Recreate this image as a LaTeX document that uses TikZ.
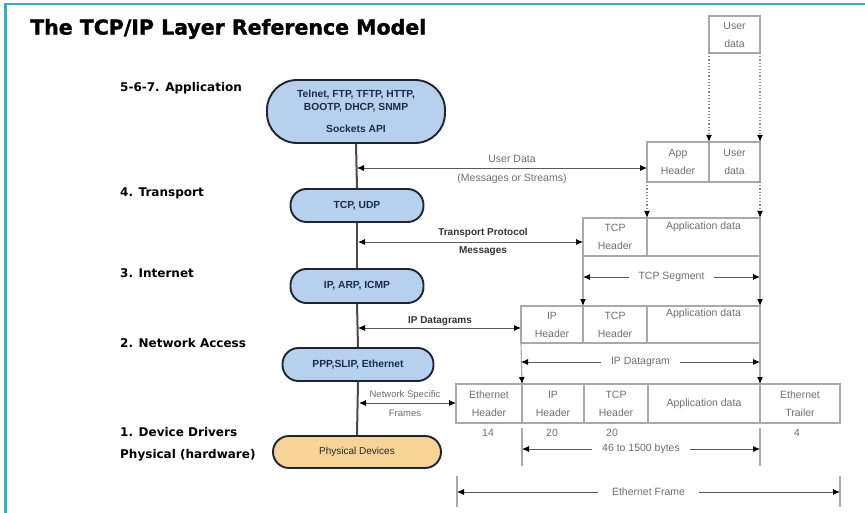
\documentclass[tikz,border=0pt]{standalone}
\usepackage{fontspec}
\setmainfont{Liberation Sans}
\newfontfamily\heavy{DejaVu Sans}
\newfontfamily\titlefont{DejaVu Sans}[BoldFeatures={FakeBold=1.5}]
\usetikzlibrary{arrows.meta}
\definecolor{frame}{HTML}{3FA9C2}
\definecolor{stadfill}{HTML}{B7D0EE}
\definecolor{stadline}{HTML}{1F2430}
\definecolor{stadtext}{HTML}{1B2B4B}
\definecolor{physfill}{HTML}{F6D498}
\definecolor{cellline}{HTML}{A9A9A9}
\definecolor{celltext}{HTML}{6E6E6E}
\definecolor{arrline}{HTML}{5A5A5A}
\definecolor{dotline}{HTML}{8A8A8A}
\definecolor{vline}{HTML}{4A4A4A}
\begin{document}
\begin{tikzpicture}[x=1pt,y=-1pt,
  lab/.style={anchor=west, inner sep=0, font=\heavy\bfseries\fontsize{12}{14}\selectfont},
  stad/.style={draw=stadline, line width=1.9pt, fill=stadfill, text=stadtext, font=\bfseries\fontsize{10.3}{13}\selectfont, align=center, inner sep=0},
  cell/.style={draw=cellline, line width=1.1pt, text=celltext, font=\fontsize{10.5}{18}\selectfont, align=center, inner sep=0, outer sep=0},
  small/.style={text=celltext, font=\fontsize{10.5}{13}\selectfont, inner sep=0},
  smallb/.style={text=black!80, font=\bfseries\fontsize{10}{13}\selectfont, inner sep=0},
  dimlab/.style={small, fill=white, inner xsep=10pt, inner ysep=1pt},
  tipstyle/.tip={Latex[length=7pt,width=6pt,color=black]},
  dbl/.style={tipstyle-tipstyle, draw=arrline, line width=0.9pt},
  dots/.style={draw=dotline, dotted, line width=1.2pt, -tipstyle},
  solidarr/.style={draw=cellline, line width=1.1pt, -tipstyle},
  tick/.style={draw=cellline, line width=1.1pt},
  vl/.style={draw=vline, line width=2pt}
]
\useasboundingbox (0,0) rectangle (865,513);
\draw[draw=frame, line width=2.5pt] (5.5,513) -- (5.5,4) -- (865,4);

% title
\node[anchor=west, inner sep=0, font=\titlefont\bfseries\fontsize{20.5}{24}\selectfont] (title) at (30,29) {The TCP/IP Layer Reference Model};

% layer labels
\node[lab] (l7) at (120,88) {5-6-7. Application};
\node[lab] (l4) at (120,193) {4. Transport};
\node[lab] (l3) at (120,273) {3. Internet};
\node[lab] (l2) at (120,343) {2. Network Access};
\node[lab] (l1) at (120,432) {1. Device Drivers};
\node[lab] (l0) at (120,455) {Physical (hardware)};

% stadiums
\node[stad, minimum width=178pt, minimum height=63pt, rounded corners=30pt] (app) at (356,111.5)
  {Telnet, FTP, TFTP, HTTP,\\BOOTP, DHCP, SNMP\\[9pt]Sockets API};
\node[stad, minimum width=133pt, minimum height=33pt, rounded corners=16pt] (tr) at (357,205.5) {TCP, UDP};
\node[stad, minimum width=133pt, minimum height=34pt, rounded corners=16pt] (ip) at (357,286) {IP, ARP, ICMP};
\node[stad, minimum width=151pt, minimum height=33pt, rounded corners=16pt] (na) at (358,364.5) {PPP,SLIP, Ethernet};
\node[stad, fill=physfill, text=black!85, font=\fontsize{10}{12}\selectfont, minimum width=168pt, minimum height=32pt, rounded corners=16pt] (ph) at (357,452) {Physical Devices};

% vertical line
\draw[vl] (app.south) -- (tr.north);
\draw[vl] (tr.south) -- (ip.north);
\draw[vl] (ip.south) -- (na.north);
\draw[vl] (na.south) -- (ph.north);

% row 0
\node[cell, minimum width=51pt, minimum height=37pt] (u0) at (734.5,34.5) {User\\data};
% row 1
\node[cell, minimum width=62pt, minimum height=40pt] (r1a) at (678,162) {App\\Header};
\node[cell, minimum width=51pt, minimum height=40pt] (r1b) at (734.5,162) {User\\data};
% row 2
\node[cell, minimum width=64pt, minimum height=38pt] (r2a) at (615,237) {TCP\\Header};
\node[cell, minimum width=113pt, minimum height=38pt] (r2b) at (703.5,237) {Application data\\[0pt]\strut};
% row 3
\node[cell, minimum width=62pt, minimum height=37pt] (r3a) at (552,324.5) {IP\\Header};
\node[cell, minimum width=64pt, minimum height=37pt] (r3b) at (615,324.5) {TCP\\Header};
\node[cell, minimum width=113pt, minimum height=37pt] (r3c) at (703.5,324.5) {Application data\\[0pt]\strut};
% row 4
\node[cell, minimum width=66pt, minimum height=39pt] (r4a) at (489,403.5) {Ethernet\\Header};
\node[cell, minimum width=62pt, minimum height=39pt] (r4b) at (553,403.5) {IP\\Header};
\node[cell, minimum width=64pt, minimum height=39pt] (r4c) at (616,403.5) {TCP\\Header};
\node[cell, minimum width=112pt, minimum height=39pt] (r4d) at (704,403.5) {Application data};
\node[cell, minimum width=80pt, minimum height=39pt] (r4e) at (800,403.5) {Ethernet\\Trailer};

% encapsulation arrows
\draw[dots] (u0.south west) -- (r1b.north west);
\draw[dots] (u0.south east) -- (r1b.north east);
\draw[dots] (r1a.south west) -- (r2b.north west);
\draw[dots] (r1b.south east) -- (r2b.north east);
\draw[solidarr] (r2a.south west) -- (r3b.north west);
\draw[solidarr] (r2b.south east) -- (r3c.north east);
\draw[solidarr] (r3a.south west) -- (r4b.north west);
\draw[solidarr] (r3c.south east) -- (r4d.north east);

% dimension arrows
\coordinate (tsy) at (0,277);
\draw[dbl] (r2a.south west |- tsy) -- (r2b.south east |- tsy)
  node[midway, dimlab] (tslab) {TCP Segment};
\coordinate (ipy) at (0,362);
\draw[dbl] (r3a.south west |- ipy) -- (r3c.south east |- ipy)
  node[midway, dimlab] (iplab) {IP Datagram};

% byte counts
\node[small] (n14) at (488,433) {14};
\node[small] (n20a) at (552,433) {20};
\node[small] (n20b) at (612,433) {20};
\node[small] (n4) at (797,433) {4};

\coordinate (bt1) at (522,428);
\coordinate (bb1) at (522,466);
\coordinate (bt2) at (760,428);
\coordinate (bb2) at (760,466);
\draw[tick] (bt1) -- (bb1);
\draw[tick] (bt2) -- (bb2);
\coordinate (by) at (0,449);
\draw[dbl] (bt1 |- by) -- (bt2 |- by)
  node[midway, dimlab] (bytes) {46 to 1500 bytes};

\coordinate (ft1) at (457,476);
\coordinate (fb1) at (457,507);
\coordinate (ft2) at (840,476);
\coordinate (fb2) at (840,507);
\draw[tick] (ft1) -- (fb1);
\draw[tick] (ft2) -- (fb2);
\coordinate (fy) at (0,492);
\draw[dbl] (ft1 |- fy) -- (ft2 |- fy)
  node[midway, dimlab, inner xsep=14pt] (frm) {Ethernet Frame};

% layer exchange arrows
\coordinate (y1) at (0,168);
\draw[dbl] ([xshift=1pt]app.south |- y1) -- (r1a.west |- y1);
\node[small] (ud) at (512,159) {User Data};
\node[small] (ms) at (512,179) {(Messages or Streams)};

\coordinate (y2) at (0,242);
\draw[dbl] ([xshift=1pt]tr.south |- y2) -- (r2a.west |- y2);
\node[smallb] (tp1) at (483,233) {Transport Protocol};
\node[smallb] (tp2) at (483,251) {Messages};

\coordinate (y3) at (0,328);
\draw[dbl] ([xshift=1pt]ip.south |- y3) -- (r3a.west |- y3);
\node[smallb] (ipd) at (440,321) {IP Datagrams};

\coordinate (y4) at (0,403);
\draw[dbl] ([xshift=1pt]na.south |- y4) -- (r4a.west |- y4);
\node[small, font=\fontsize{9.5}{12}\selectfont] (ns1) at (405,395) {Network Specific};
\node[small, font=\fontsize{9.5}{12}\selectfont] (ns2) at (405,413) {Frames};
\end{tikzpicture}
\end{document}
